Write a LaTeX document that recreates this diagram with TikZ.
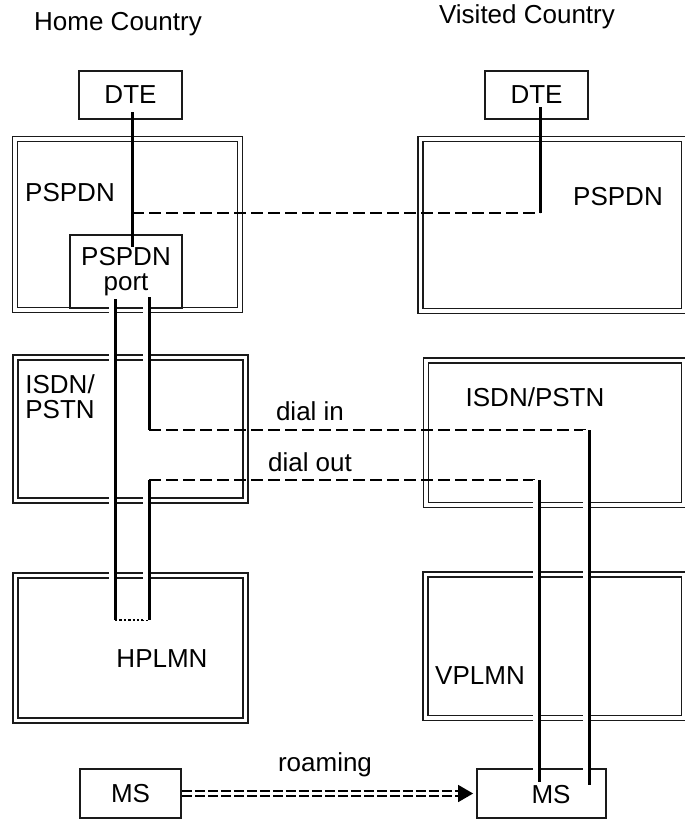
\documentclass[tikz,border=0pt]{standalone}
\usepackage{fontspec}
\setmainfont{Liberation Sans}
\usetikzlibrary{arrows.meta}
\definecolor{cizgi}{HTML}{000000}
\definecolor{kenar}{HTML}{1A1A1A}

\begin{document}
\begin{tikzpicture}[x=0.5pt,y=-0.5pt,
  every node/.style={font=\fontsize{13}{12.5}\selectfont, text=cizgi, inner sep=0pt},
  kutu/.style={draw=kenar, line width=0.9pt},
  ag/.style={draw=kenar, line width=0.8pt, double=white, double distance=1.6pt},
  hat/.style={cizgi, line width=1.5pt},
  bosluk/.style={preaction={draw=white, line width=2.6pt, transform canvas={xshift=-1.8pt}}},
  kesik/.style={cizgi, line width=1.4pt, dash pattern=on 6pt off 2.5pt},
  nokta/.style={cizgi, line width=1.4pt, dash pattern=on 1.2pt off 1pt},
  gezinti/.style={cizgi, line width=1.3pt, double=white, double distance=1.3pt, dash pattern=on 5pt off 1.5pt}]
\useasboundingbox (0,0) rectangle (685,820);
% ulke basliklari
\node (homeLbl) at (118,24) {Home Country};
\node (visLbl) at (527,17) {Visited Country};
% DTE kutulari
\node[kutu, minimum width=51.5pt, minimum height=24pt] (dteHome) at (130.5,95) {DTE};
\node[kutu, minimum width=51.5pt, minimum height=24pt] (dteVis) at (536.5,95) {DTE};
% aglar
\node[ag, minimum width=112.5pt, minimum height=85.5pt] (pspdnHome) at (127.5,224.5) {};
\node[ag, minimum width=131.75pt, minimum height=86pt] (pspdnVis) at (552.25,225) {};
\node[ag, minimum width=115pt, minimum height=71.5pt] (isdnHome) at (130.5,429) {};
\node[ag, minimum width=129pt, minimum height=72.25pt] (isdnVis) at (555,432.75) {};
\node[ag, minimum width=115pt, minimum height=72.5pt] (hplmn) at (130.5,648) {};
\node[ag, minimum width=129.25pt, minimum height=71.75pt] (vplmn) at (554.75,646.25) {};
\node[kutu, minimum width=56pt, minimum height=36.5pt, align=center] (port) at (126,271.5) {PSPDN\\port};
% ag etiketleri
\node (pspdnHomeLbl) at (70,193) {PSPDN};
\node (pspdnVisLbl) at (618,197) {PSPDN};
\node[anchor=west, align=left] (isdnHomeLbl) at (25,397) {ISDN/\\PSTN};
\node (isdnVisLbl) at (535,397) {ISDN/PSTN};
\node (hplmnLbl) at (162,659) {HPLMN};
\node (vplmnLbl) at (480,676) {VPLMN};
% MS kutulari
\node[kutu, minimum width=50.5pt, minimum height=24.5pt] (msHome) at (130.5,793.5) {MS};
\node[kutu, minimum width=64.5pt, minimum height=24.5pt] (msVis) at (541.5,793.5) {};
\node (msVisLbl) at (551,795) {MS};
% baglanti noktalari
\coordinate (dteHomeUc) at (132,112);
\coordinate (portUc) at (132,247);
\coordinate (dteKose1) at (132,213);
\coordinate (dteKose2) at (540,213);
\coordinate (dteVisUc) at (540,107);
\coordinate (pA) at (115,299);
\coordinate (pB) at (115,620);
\coordinate (pC) at (149,620);
\coordinate (pD) at (149,480);
\coordinate (pE) at (539,480);
\coordinate (pF) at (539,782);
\coordinate (qA) at (149,297);
\coordinate (qB) at (149,430);
\coordinate (qC) at (589,430);
\coordinate (qD) at (589,785);
% DTE - DTE
\draw[hat] (dteHomeUc) -- (portUc);
\draw[kesik] (dteKose1) -- (dteKose2);
\draw[hat] (dteKose2) -- (dteVisUc);
% dial out
\draw[hat, bosluk] (pA) -- (pB);
\draw[nokta] (pB) -- (pC);
\draw[hat, bosluk] (pC) -- (pD);
\draw[kesik] (pD) -- (pE);
\draw[hat, bosluk] (pE) -- (pF);
% dial in
\draw[hat, bosluk] (qA) -- (qB);
\draw[kesik] (qB) -- (qC);
\draw[hat, bosluk] (qC) -- (qD);
\node (dialInLbl) at (310,411) {dial in};
\node (dialOutLbl) at (310,462) {dial out};
% roaming
\draw[gezinti] (msHome.east) -- ([xshift=-8.5pt]msVis.west);
\draw[cizgi, line width=0.8pt, -{Triangle[length=7.5pt,width=8.5pt]}] ([xshift=-9pt]msVis.west) -- ([xshift=-1.5pt]msVis.west);
\node (roamLbl) at (325,765) {roaming};
\end{tikzpicture}
\end{document}
